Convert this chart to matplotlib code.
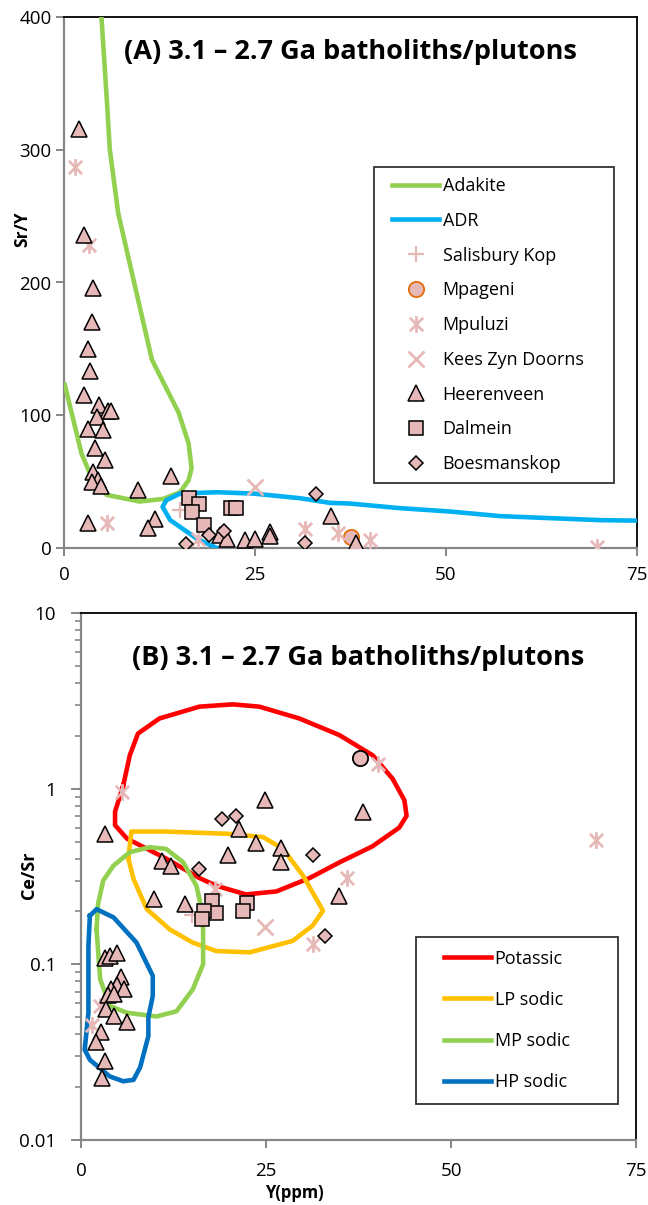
import numpy as np
import matplotlib
matplotlib.use("Agg")
import matplotlib.pyplot as plt
from matplotlib.path import Path
from matplotlib.lines import Line2D
from matplotlib.legend_handler import HandlerLine2D

plt.rcParams['font.family'] = ['Open Sans', 'DejaVu Sans']

# ---- (A) Sr/Y vs Y ----
adakite_x = [4.9, 5.6, 6.0, 7.1, 9.5, 11.5, 12.1, 15.0, 16.3, 16.7, 16.3, 15.2, 13.0, 9.9, 5.6, 3.4, 2.3, 0.1]
adakite_y = [400, 338, 300, 252, 192, 142, 135, 102, 79, 60, 51, 42, 37, 35, 40, 56, 71, 123]
adr_x = [20.0, 17.4, 13.9, 12.9, 13.4, 15.2, 20.0, 24.8, 30.9, 34.8, 37.4, 44.0, 50.5, 57.1, 63.6, 70.2, 75.0]
adr_y = [0, 7, 21, 31, 36, 41, 42, 41, 37.5, 34, 33.5, 30, 27.5, 24, 22.5, 21, 20.6]

heer_a_x = [1.9, 2.6, 3.8, 3.6, 3.2, 3.4, 2.65, 4.6, 5.8, 6.2, 4.3, 3.2, 5.1, 4.0, 5.4, 3.75, 4.4, 3.6,
            4.8, 9.7, 3.2, 14.0, 11.9, 11.0, 20.4, 21.3, 23.7, 25.0, 27.0, 27.0, 35.0, 38.2]
heer_a_y = [316, 236, 196, 170, 150, 133, 115, 108, 103, 103, 99, 90, 89, 75, 66, 57, 51, 50,
            47, 44, 19, 54, 22, 15, 10, 7, 6, 7, 12, 9, 24, 3.5]
dalm_a_x = [16.4, 17.7, 16.7, 21.9, 22.5, 18.3]
dalm_a_y = [38, 33, 27, 30, 30, 17]
boes_a_x = [16.0, 19.0, 21.0, 33.0, 31.5]
boes_a_y = [3, 10, 13, 41, 3.5]
mpul_a_x = [1.4, 3.3, 5.6, 31.5, 35.9, 40.1, 69.8, 17.6]
mpul_a_y = [287, 228, 19, 14, 11, 6, 0.5, 7]
kees_a_x, kees_a_y = [25.0], [46]
sali_a_x, sali_a_y = [15.2], [29]
mpag_a_x, mpag_a_y = [37.6], [8.5]

# ---- (B) Ce/Sr vs Y ----
potassic_x = [5.7, 4.6, 4.6, 6.2, 11.5, 16.0, 18.3, 22.3, 26.4, 30.9, 34.9, 39.4, 43.0, 44.0,
              43.7, 42.1, 39.4, 34.9, 29.5, 24.1, 20.5, 16.0, 10.6, 7.7, 6.6, 5.7]
potassic_y = [1.04, 0.74, 0.62, 0.52, 0.40, 0.31, 0.28, 0.25, 0.26, 0.31, 0.38, 0.47, 0.60, 0.70,
              0.86, 1.14, 1.55, 2.02, 2.51, 2.93, 3.02, 2.93, 2.51, 2.06, 1.55, 1.04]
lp_x = [6.4, 6.8, 11.5, 20.1, 24.6, 27.3, 30.0, 32.7, 31.3, 28.6, 22.8, 18.3, 15.1, 12.0, 8.9,
        7.1, 6.4, 6.4]
lp_y = [0.40, 0.57, 0.57, 0.553, 0.53, 0.454, 0.32, 0.202, 0.166, 0.136, 0.117, 0.119, 0.133,
        0.158, 0.206, 0.306, 0.40, 0.40]
mp_x = [2.1, 2.3, 3.0, 4.4, 6.6, 9.3, 11.5, 13.8, 15.6, 16.3, 16.5, 16.5, 15.1, 12.9, 10.2,
        6.2, 3.9, 2.6, 2.1]
mp_y = [0.158, 0.22, 0.30, 0.365, 0.435, 0.464, 0.454, 0.381, 0.28, 0.206, 0.158, 0.10, 0.072,
        0.054, 0.0505, 0.053, 0.058, 0.082, 0.158]
hp_x = [1.2, 2.1, 4.4, 7.5, 9.7, 9.7, 9.1, 9.1, 8.0, 7.1, 5.7, 3.9, 1.2, 0.5, 1.0, 1.0, 1.2]
hp_y = [0.189, 0.206, 0.185, 0.133, 0.086, 0.066, 0.050, 0.039, 0.026, 0.022, 0.0216, 0.023,
        0.0286, 0.0327, 0.053, 0.127, 0.189]

heer_b_x = [3.2, 24.9, 21.3, 23.6, 27.0, 27.0, 19.9, 10.9, 12.1, 14.0, 9.8, 34.9, 38.1, 3.2, 3.9,
            4.9, 5.35, 4.8, 5.8, 4.0, 3.7, 4.4, 3.4, 4.45, 6.2, 2.65, 2.0, 3.2, 2.8]
heer_b_y = [0.55, 0.86, 0.59, 0.49, 0.46, 0.38, 0.42, 0.39, 0.365, 0.22, 0.235, 0.245, 0.74, 0.109,
            0.112, 0.116, 0.085, 0.076, 0.072, 0.072, 0.067, 0.068, 0.056, 0.051, 0.047, 0.041,
            0.036, 0.028, 0.0224]
dalm_b_x = [17.7, 18.3, 16.6, 16.35, 22.4, 21.9]
dalm_b_y = [0.23, 0.197, 0.20, 0.18, 0.223, 0.20]
boes_b_x = [19.0, 20.9, 16.0, 31.4, 33.0]
boes_b_y = [0.67, 0.70, 0.35, 0.42, 0.145]
mpul_b_x = [40.1, 69.6, 36.0, 31.4, 5.6, 18.1, 1.44, 2.6]
mpul_b_y = [1.39, 0.51, 0.31, 0.13, 0.96, 0.27, 0.045, 0.058]
kees_b_x, kees_b_y = [24.9], [0.164]
sali_b_x, sali_b_y = [15.05], [0.19]
mpag_b_x, mpag_b_y = [37.7], [1.5]

PINK = '#E6B9B8'
GREY = '#868686'
# asterisk: X with a vertical bar
STAR = Path([(-1, -1), (1, 1), (-1, 1), (1, -1), (0, -1.25), (0, 1.25)],
            [Path.MOVETO, Path.LINETO, Path.MOVETO, Path.LINETO, Path.MOVETO, Path.LINETO])

fig = plt.figure(figsize=(6.48, 12.05), dpi=100)
W, H = 648, 1205
ax1 = fig.add_axes([64 / W, 1 - 548 / H, (637 - 64) / W, (548 - 17) / H])
ax2 = fig.add_axes([81 / W, 1 - 1140 / H, (636 - 81) / W, (1140 - 613) / H])


def style_axes(ax):
    for s in ('left', 'bottom'):
        ax.spines[s].set_color(GREY)
        ax.spines[s].set_linewidth(1.6)
    for s in ('top', 'right'):
        ax.spines[s].set_color('black')
        ax.spines[s].set_linewidth(1.3)
    ax.tick_params(which='major', direction='out', length=6, width=1.4, color=GREY,
                   labelsize=13.5, pad=3)
    ax.tick_params(axis='x', which='major', pad=7)
    ax.tick_params(which='minor', direction='out', length=4, width=1.2, color=GREY)
    ax.tick_params(top=False, right=False)


def scatter_sets(ax, d, circle_edge):
    lw = 1.1
    ax.plot(d['sali'][0], d['sali'][1], ls='none', marker='+', ms=11, mew=1.6, color=PINK,
            label='Salisbury Kop', zorder=4)
    ax.plot(d['mpag'][0], d['mpag'][1], ls='none', marker='o', ms=11, mew=1.3, mfc=PINK,
            mec=circle_edge, label='Mpageni', zorder=4)
    ax.plot(d['mpul'][0], d['mpul'][1], ls='none', marker=STAR, ms=12, mew=2.0, mec=PINK,
            mfc='none', label='Mpuluzi', zorder=4)
    ax.plot(d['kees'][0], d['kees'][1], ls='none', marker='x', ms=12, mew=2.0, color=PINK,
            label='Kees Zyn Doorns', zorder=4)
    ax.plot(d['heer'][0], d['heer'][1], ls='none', marker='^', ms=11.5, mew=lw, mfc=PINK,
            mec='black', label='Heerenveen', zorder=5)
    ax.plot(d['dalm'][0], d['dalm'][1], ls='none', marker='s', ms=9.5, mew=lw, mfc=PINK,
            mec='black', label='Dalmein', zorder=5)
    ax.plot(d['boes'][0], d['boes'][1], ls='none', marker='D', ms=7.5, mew=lw, mfc=PINK,
            mec='black', label='Boesmanskop', zorder=5)


# panel A
style_axes(ax1)
ax1.plot(adakite_x, adakite_y, color='#92D050', lw=3.3, solid_joinstyle='round', label='Adakite', zorder=3)
ax1.plot(adr_x, adr_y, color='#00B0F0', lw=3.3, solid_joinstyle='round', label='ADR', zorder=3)
scatter_sets(ax1, {'sali': (sali_a_x, sali_a_y), 'mpag': (mpag_a_x, mpag_a_y),
                   'mpul': (mpul_a_x, mpul_a_y), 'kees': (kees_a_x, kees_a_y),
                   'heer': (heer_a_x, heer_a_y), 'dalm': (dalm_a_x, dalm_a_y),
                   'boes': (boes_a_x, boes_a_y)}, '#E46C0A')
ax1.set_xlim(0, 75)
ax1.set_ylim(0, 400)
ax1.set_xticks([0, 25, 50, 75])
ax1.set_yticks([0, 100, 200, 300, 400])
ax1.set_ylabel('Sr/Y', fontsize=12.5, fontweight='bold')
ax1.yaxis.set_label_coords(-0.058, 0.6)
ax1.text(0.5, 0.934, '(A) 3.1 – 2.7 Ga batholiths/plutons', transform=ax1.transAxes,
         ha='center', va='center', fontsize=19.5, fontweight='bold')
leg1 = ax1.legend(loc='upper left', bbox_to_anchor=(374 / W, 1 - 167 / H, 240 / W, 0),
                  bbox_transform=fig.transFigure, mode='expand', borderaxespad=0,
                  frameon=True, fancybox=False, edgecolor='black', fontsize=13,
                  labelspacing=0.93, handlelength=3.05, handletextpad=0.2, borderpad=0.55,
                  handler_map={Line2D: HandlerLine2D(xpad=0.45)})
leg1.get_frame().set_linewidth(1.3)

# panel B
style_axes(ax2)
ax2.set_yscale('log')
ax2.plot(potassic_x, potassic_y, color='#FF0000', lw=3.3, solid_joinstyle='round', label='Potassic', zorder=3)
ax2.plot(lp_x, lp_y, color='#FFC000', lw=3.3, solid_joinstyle='round', label='LP sodic', zorder=3)
ax2.plot(mp_x, mp_y, color='#92D050', lw=3.3, solid_joinstyle='round', label='MP sodic', zorder=3)
ax2.plot(hp_x, hp_y, color='#0070C0', lw=3.3, solid_joinstyle='round', label='HP sodic', zorder=3)
scatter_sets(ax2, {'sali': (sali_b_x, sali_b_y), 'mpag': (mpag_b_x, mpag_b_y),
                   'mpul': (mpul_b_x, mpul_b_y), 'kees': (kees_b_x, kees_b_y),
                   'heer': (heer_b_x, heer_b_y), 'dalm': (dalm_b_x, dalm_b_y),
                   'boes': (boes_b_x, boes_b_y)}, 'black')
ax2.set_xlim(0, 75)
ax2.set_ylim(0.01, 10)
ax2.set_xticks([0, 25, 50, 75])
ax2.set_yticks([0.01, 0.1, 1, 10])
ax2.set_yticklabels(['0.01', '0.1', '1', '10'])
ax2.tick_params(axis='y', which='major', length=7, pad=11)
ax2.tick_params(axis='x', which='major', pad=10)
ax2.set_ylabel('Ce/Sr', fontsize=13, fontweight='bold')
ax2.yaxis.set_label_coords(-0.077, 0.503)
ax2.set_xlabel('Y(ppm)', fontsize=12, fontweight='bold')
ax2.xaxis.set_label_coords(0.385, -0.084)
ax2.text(0.5, 0.915, '(B) 3.1 – 2.7 Ga batholiths/plutons', transform=ax2.transAxes,
         ha='center', va='center', fontsize=19.5, fontweight='bold')
handles2 = ax2.get_legend_handles_labels()[0][:4]
leg2 = ax2.legend(handles=handles2, loc='upper left',
                  bbox_to_anchor=(416 / W, 1 - 937 / H, 202 / W, 0),
                  bbox_transform=fig.transFigure, mode='expand', borderaxespad=0,
                  frameon=True, fancybox=False, edgecolor='black', fontsize=13,
                  labelspacing=1.28, handlelength=3.45, handletextpad=0.2, borderpad=0.7,
                  handler_map={Line2D: HandlerLine2D(xpad=0.85)})
leg2.get_frame().set_linewidth(1.3)

fig.savefig('out.png', dpi=100)
